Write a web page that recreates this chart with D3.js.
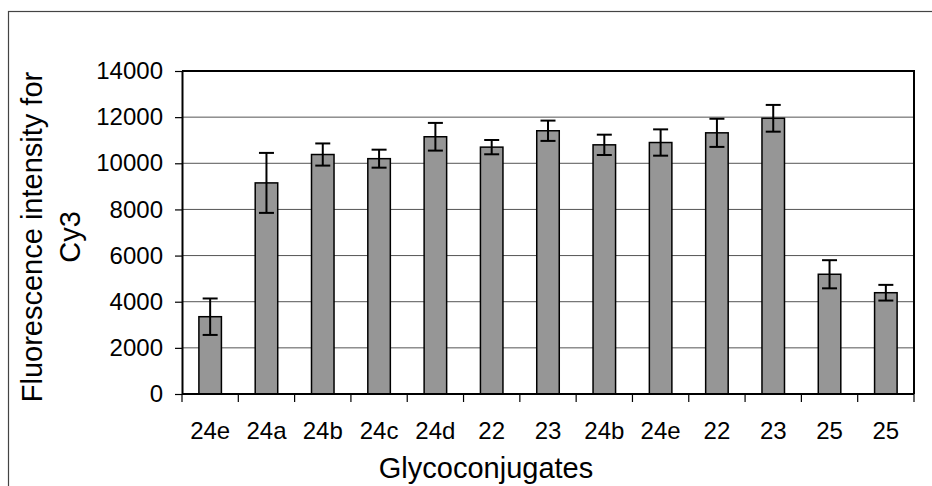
<!DOCTYPE html>
<html>
<head>
<meta charset="utf-8">
<script src="https://cdn.jsdelivr.net/npm/d3@7"></script>
<style>
  body { margin: 0; background: #fff; }
  svg { display: block; font-family: "Liberation Sans", Arial, sans-serif; }
</style>
</head>
<body>
<svg id="chart" width="932" height="486"></svg>
<script>
const categories = ["24e", "24a", "24b", "24c", "24d", "22", "23", "24b", "24e", "22", "23", "25", "25"];
const values = [3350, 9150, 10380, 10200, 11150, 10700, 11410, 10800, 10900, 11320, 11950, 5190, 4390];
const errors = [790, 1300, 480, 390, 600, 310, 440, 440, 570, 610, 580, 610, 340];
const yTicks = [0, 2000, 4000, 6000, 8000, 10000, 12000, 14000];

const svg = d3.select("#chart");
const margin = { left: 182, right: 18, top: 71, bottom: 92 };
const width = +svg.attr("width");
const height = +svg.attr("height");
const innerW = width - margin.left - margin.right;
const innerH = height - margin.top - margin.bottom;

// outer chart frame (right and bottom run off the picture)
svg.append("rect")
  .attr("x", 8.5).attr("y", 11.5)
  .attr("width", 1000).attr("height", 1000)
  .attr("fill", "none")
  .attr("stroke", "#444")
  .attr("stroke-width", 1.2);

const g = svg.append("g").attr("transform", `translate(${margin.left},${margin.top})`);

const x = d3.scaleBand()
  .domain(d3.range(categories.length))
  .range([0, innerW])
  .paddingInner(0.6)
  .paddingOuter(0.3);

const y = d3.scaleLinear().domain([0, 14000]).range([innerH, 0]);

// gridlines
g.selectAll(".grid")
  .data(yTicks.slice(1, -1))
  .enter()
  .append("line")
  .attr("x1", 0).attr("x2", innerW)
  .attr("y1", d => y(d)).attr("y2", d => y(d))
  .attr("stroke", "#555")
  .attr("stroke-width", 1);

// plot frame top/right
g.append("path")
  .attr("d", `M0,0H${innerW}V${innerH}`)
  .attr("fill", "none")
  .attr("stroke", "#000")
  .attr("stroke-width", 2);

// bars
g.selectAll(".bar")
  .data(values)
  .enter()
  .append("rect")
  .attr("x", (_, i) => x(i))
  .attr("y", d => y(d))
  .attr("width", x.bandwidth())
  .attr("height", d => innerH - y(d))
  .attr("fill", "#969696")
  .attr("stroke", "#000")
  .attr("stroke-width", 1.5);

// error bars
const cap = 7.5;
const eb = g.selectAll(".err")
  .data(values)
  .enter()
  .append("g")
  .attr("stroke", "#000")
  .attr("stroke-width", 2);
eb.append("line")
  .attr("x1", (_, i) => x(i) + x.bandwidth() / 2)
  .attr("x2", (_, i) => x(i) + x.bandwidth() / 2)
  .attr("y1", (d, i) => y(d + errors[i]))
  .attr("y2", (d, i) => y(d - errors[i]));
eb.append("line")
  .attr("x1", (_, i) => x(i) + x.bandwidth() / 2 - cap)
  .attr("x2", (_, i) => x(i) + x.bandwidth() / 2 + cap)
  .attr("y1", (d, i) => y(d + errors[i]))
  .attr("y2", (d, i) => y(d + errors[i]));
eb.append("line")
  .attr("x1", (_, i) => x(i) + x.bandwidth() / 2 - cap)
  .attr("x2", (_, i) => x(i) + x.bandwidth() / 2 + cap)
  .attr("y1", (d, i) => y(d - errors[i]))
  .attr("y2", (d, i) => y(d - errors[i]));

// y axis
const yAxis = g.append("g")
  .call(d3.axisLeft(y).tickValues(yTicks).tickFormat(d3.format("d"))
    .tickSize(7).tickPadding(12).tickSizeOuter(0));
yAxis.select(".domain").attr("stroke-width", 2);
yAxis.selectAll(".tick line").attr("stroke-width", 1.2);
yAxis.selectAll("text").attr("font-size", 24).attr("fill", "#000").attr("font-family", "Liberation Sans, Arial, sans-serif");

// x axis: ticks at category boundaries
const xAxis = g.append("g").attr("transform", `translate(0,${innerH})`);
xAxis.append("line")
  .attr("x1", 0).attr("x2", innerW)
  .attr("stroke", "#000").attr("stroke-width", 2);
xAxis.selectAll(".xt")
  .data(d3.range(categories.length + 1))
  .enter()
  .append("line")
  .attr("x1", i => i * innerW / categories.length)
  .attr("x2", i => i * innerW / categories.length)
  .attr("y1", 0).attr("y2", 8)
  .attr("stroke", "#000").attr("stroke-width", 1.2);
xAxis.selectAll(".xl")
  .data(categories)
  .enter()
  .append("text")
  .attr("x", (_, i) => x(i) + x.bandwidth() / 2)
  .attr("y", 45)
  .attr("text-anchor", "middle")
  .attr("font-size", 24)
  .text(d => d);

// axis titles
svg.append("text")
  .attr("x", margin.left + innerW / 2 - 62)
  .attr("y", 478)
  .attr("text-anchor", "middle")
  .attr("font-size", 29)
  .text("Glycoconjugates");

const yt = svg.append("text")
  .attr("transform", "translate(0,237) rotate(-90)")
  .attr("text-anchor", "middle")
  .attr("font-size", 29);
yt.append("tspan").attr("x", 0).attr("y", 42).text("Fluorescence intensity for");
yt.append("tspan").attr("x", 0).attr("y", 80).text("Cy3");
</script>
</body>
</html>
